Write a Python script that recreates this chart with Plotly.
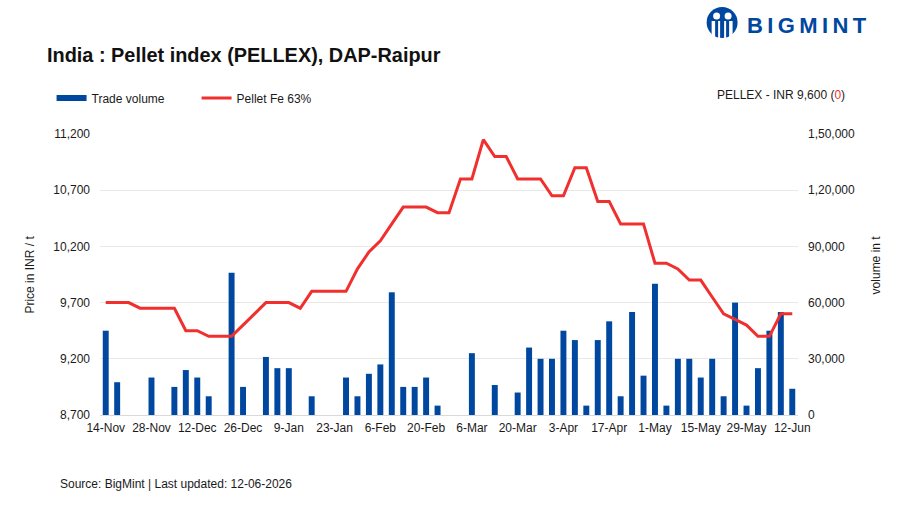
import plotly.graph_objects as go

dates = [
    "14-Nov", "18-Nov", "21-Nov", "25-Nov", "28-Nov", "2-Dec", "5-Dec", "9-Dec", "12-Dec",
    "16-Dec", "19-Dec", "23-Dec", "26-Dec", "30-Dec", "2-Jan", "6-Jan", "9-Jan",
    "13-Jan", "16-Jan", "20-Jan", "23-Jan", "27-Jan", "30-Jan", "3-Feb", "6-Feb",
    "10-Feb", "13-Feb", "17-Feb", "20-Feb", "24-Feb", "27-Feb", "3-Mar", "6-Mar",
    "10-Mar", "13-Mar", "17-Mar", "20-Mar", "24-Mar", "27-Mar", "31-Mar", "3-Apr",
    "7-Apr", "10-Apr", "14-Apr", "17-Apr", "21-Apr", "24-Apr", "28-Apr", "1-May",
    "5-May", "8-May", "12-May", "15-May", "19-May", "22-May", "26-May", "29-May",
    "2-Jun", "5-Jun", "9-Jun", "12-Jun",
]
volume = [
    45000, 17500, 0, 0, 20000, 0, 15000, 24000, 20000, 10000, 0, 76000, 15000, 0, 31000, 25000,
    25000, 0, 10000, 0, 0, 20000, 10000, 22000, 27000, 65500, 15000, 15000, 20000, 5000, 0, 0,
    33000, 0, 16000, 0, 12000, 36000, 30000, 30000, 45000, 40000, 5000, 40000, 50000, 10000,
    55000, 21000, 70000, 5000, 30000, 30000, 20000, 30000, 10000, 60000, 5000, 25000, 45000,
    55000, 14000,
]
price = [
    9700, 9700, 9700, 9650, 9650, 9650, 9650, 9450, 9450, 9400, 9400, 9400, 9500, 9600, 9700, 9700,
    9700, 9650, 9800, 9800, 9800, 9800, 10000, 10150, 10250, 10400, 10550, 10550, 10550, 10500,
    10500, 10800, 10800, 11150, 11000, 11000, 10800, 10800, 10800, 10650, 10650, 10900, 10900,
    10600, 10600, 10400, 10400, 10400, 10050, 10050, 10000, 9900, 9900, 9750, 9600, 9550, 9500,
    9400, 9400, 9600, 9600,
]
price_ticks = [8700, 9200, 9700, 10200, 10700, 11200]
price_labels = ["8,700", "9,200", "9,700", "10,200", "10,700", "11,200"]
volume_ticks = [0, 30000, 60000, 90000, 120000, 150000]
volume_labels = ["0", "30,000", "60,000", "90,000", "1,20,000", "1,50,000"]

WIDTH, HEIGHT = 900, 508
LEFT, RIGHT, TOP, BOTTOM = 99.5, 798.5, 134.0, 415.0
BLUE = "#0047A0"
RED = "#F0302E"
INK = "#1a1a1a"
FONT = "Liberation Sans"


def fx(x):
    return (x - LEFT) / (RIGHT - LEFT)


def fy(y):
    return (BOTTOM - y) / (BOTTOM - TOP)


def note(x, y, text, size=12, anchor="left", angle=0, color=INK):
    return dict(
        x=fx(x), y=fy(y), xref="paper", yref="paper", text=text, showarrow=False,
        xanchor=anchor, yanchor="middle", textangle=angle,
        font=dict(family=FONT, size=size, color=color),
    )


fig = go.Figure()
fig.add_trace(go.Bar(x=dates, y=volume, marker=dict(color=BLUE, line_width=0), width=0.52,
                     yaxis="y", showlegend=False))
# Wide legend swatch for the bars
fig.add_trace(go.Scatter(x=[None], y=[None], mode="lines", name="Trade volume",
                         line=dict(color=BLUE, width=6)))
fig.add_trace(go.Scatter(x=dates, y=price, mode="lines", name="Pellet Fe 63%", yaxis="y2",
                         line=dict(color=RED, width=3, simplify=False)))

# Logo: disc, two heads and the white outline of two figures
logo_shapes = [
    dict(type="circle", x0=fx(707), x1=fx(738), y0=fy(7), y1=fy(38), fillcolor=BLUE),
    dict(type="circle", x0=fx(713.5), x1=fx(720.5), y0=fy(12.5), y1=fy(19.5), fillcolor="white"),
    dict(type="circle", x0=fx(725), x1=fx(732), y0=fy(12.5), y1=fy(19.5), fillcolor="white"),
    dict(type="rect", x0=fx(712), x1=fx(715.5), y0=fy(21), y1=fy(39), fillcolor="white"),
    dict(type="rect", x0=fx(729.5), x1=fx(733), y0=fy(21), y1=fy(39), fillcolor="white"),
    dict(type="rect", x0=fx(718.5), x1=fx(720.5), y0=fy(21), y1=fy(39), fillcolor="white"),
    dict(type="rect", x0=fx(724.5), x1=fx(726.5), y0=fy(21), y1=fy(39), fillcolor="white"),
]
for s in logo_shapes:
    s.update(xref="paper", yref="paper", line_width=0, layer="above")

annotations = [
    note(44, 55, "<b>India : Pellet index (PELLEX), DAP-Raipur</b>", size=19.9, color="#111111"),
    note(745.5, 25.5, "<b>B\u2009I\u2009G\u2009M\u2009I\u2009N\u2009T</b>", size=22, color=BLUE),
    note(848, 95, 'PELLEX - INR 9,600 (<span style="color:#F0302E">0</span>)', anchor="right"),
    note(29, 275, "Price in INR / t", angle=-90, anchor="center"),
    note(877, 265, "volume in t", angle=-90, anchor="center"),
    note(57, 484, "Source: BigMint | Last updated: 12-06-2026"),
]

fig.update_layout(
    width=WIDTH, height=HEIGHT, autosize=False,
    margin=dict(l=LEFT, r=WIDTH - RIGHT, t=TOP, b=HEIGHT - BOTTOM, pad=0),
    paper_bgcolor="white", plot_bgcolor="white",
    font=dict(family=FONT, size=12, color=INK),
    barmode="overlay", bargap=0.48,
    shapes=logo_shapes, annotations=annotations,
    legend=dict(orientation="h", x=fx(51), y=fy(98), xanchor="left", yanchor="middle",
                entrywidth=100, entrywidthmode="pixels", itemwidth=30,
                font=dict(family=FONT, size=12, color=INK), bgcolor="rgba(0,0,0,0)"),
    xaxis=dict(type="category", categoryorder="array", categoryarray=dates, range=[-0.5, 60.5],
               tickmode="array", tickvals=dates[::4], ticktext=dates[::4], tickangle=0,
               ticks="", showgrid=False, showline=True, linecolor="#d9d9d9", linewidth=1,
               ticklabelstandoff=2, tickfont=dict(size=12, color=INK), automargin=False),
    yaxis=dict(side="right", range=[0, 150000], tickmode="array", tickvals=volume_ticks,
               ticktext=volume_labels, showgrid=True, gridcolor="#E8E8E8", gridwidth=1,
               zeroline=False, ticks="", ticklabelstandoff=9, automargin=False,
               tickfont=dict(size=12, color=INK)),
    yaxis2=dict(side="left", overlaying="y", range=[8700, 11200], tickmode="array",
                tickvals=price_ticks, ticktext=price_labels, showgrid=False, zeroline=False,
                ticks="", ticklabelstandoff=9, automargin=False,
                tickfont=dict(size=12, color=INK)),
)

fig.write_html("out.html", config=dict(displayModeBar=False))
